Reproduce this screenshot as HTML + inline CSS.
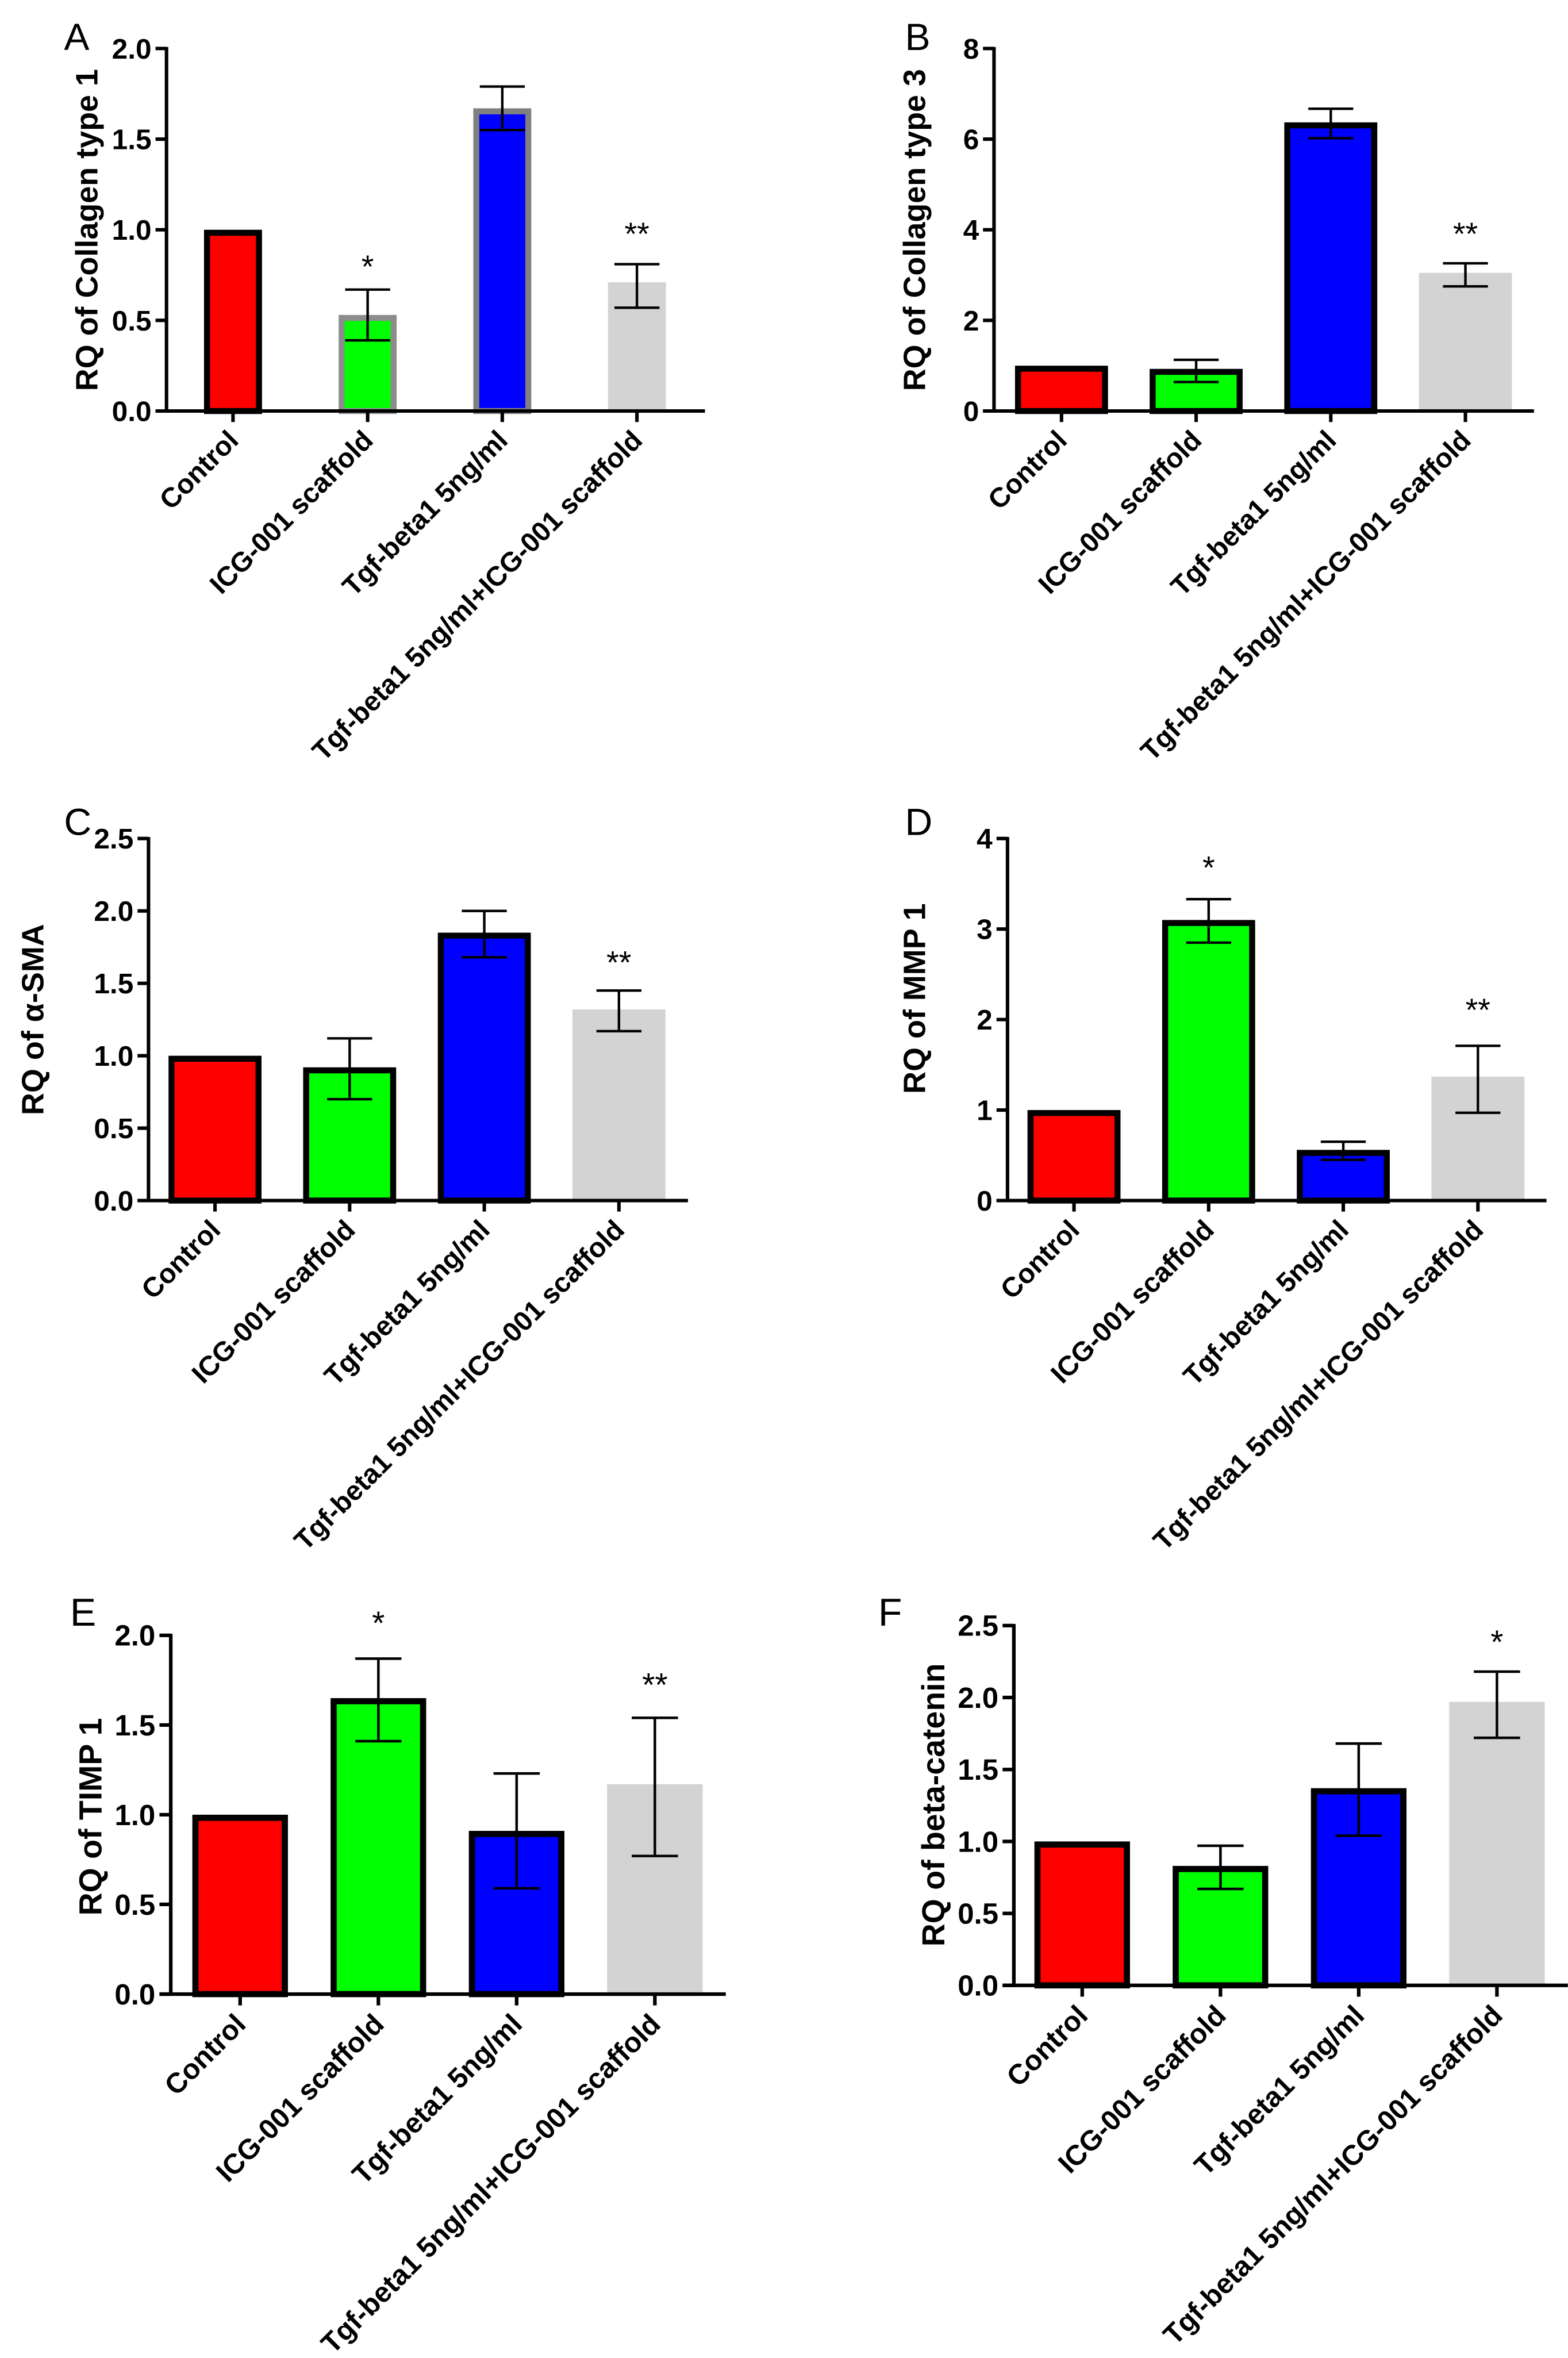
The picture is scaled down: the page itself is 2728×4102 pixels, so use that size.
<!DOCTYPE html>
<html><head><meta charset="utf-8">
<style>
html,body{margin:0;padding:0;background:#fff;}
body{width:2728px;height:4102px;position:relative;overflow:hidden;}
svg{position:absolute;}
text{font-family:"Liberation Sans",Arial,sans-serif;}
</style></head>
<body>
<svg id="pA" style="left:0;top:0" width="1364" height="1350" viewBox="0 0 1568 1552"></svg>
<svg id="pB" style="left:1364px;top:0" width="1364" height="1350" viewBox="0 0 1568 1552"></svg>
<svg id="pC" style="left:0;top:1350px" width="1364" height="1350" viewBox="0 0 1568 1552"></svg>
<svg id="pD" style="left:1364px;top:1350px" width="1364" height="1350" viewBox="0 0 1568 1552"></svg>
<svg id="pE" style="left:0;top:2700px" width="1364" height="1402" viewBox="0 0 1525 1568"></svg>
<svg id="pF" style="left:1364px;top:2700px" width="1364" height="1402" viewBox="0 0 1525 1568"></svg>
<script>
const categories = ["Control","ICG-001 scaffold","Tgf-beta1 5ng/ml","Tgf-beta1 5ng/ml+ICG-001 scaffold"];
const valuesA = [1.0, 0.53, 1.67, 0.71];
const errHiA = [null, 0.67, 1.79, 0.81];
const errLoA = [null, 0.39, 1.55, 0.57];
const starsA = ["", "*", "", "**"];
const ticksA = ["0.0","0.5","1.0","1.5","2.0"];
const valuesB = [1.0, 0.93, 6.37, 3.05];
const errHiB = [null, 1.13, 6.67, 3.26];
const errLoB = [null, 0.64, 6.02, 2.75];
const starsB = ["", "", "", "**"];
const ticksB = ["0","2","4","6","8"];
const valuesC = [1.0, 0.92, 1.85, 1.32];
const errHiC = [null, 1.12, 2.00, 1.45];
const errLoC = [null, 0.70, 1.68, 1.17];
const starsC = ["", "", "", "**"];
const ticksC = ["0.0","0.5","1.0","1.5","2.0","2.5"];
const valuesD = [1.0, 3.10, 0.56, 1.37];
const errHiD = [null, 3.33, 0.65, 1.71];
const errLoD = [null, 2.85, 0.45, 0.97];
const starsD = ["", "*", "", "**"];
const ticksD = ["0","1","2","3","4"];
const valuesE = [1.0, 1.65, 0.91, 1.17];
const errHiE = [null, 1.87, 1.23, 1.54];
const errLoE = [null, 1.41, 0.59, 0.77];
const starsE = ["", "*", "", "**"];
const ticksE = ["0.0","0.5","1.0","1.5","2.0"];
const valuesF = [1.0, 0.83, 1.37, 1.97];
const errHiF = [null, 0.97, 1.68, 2.18];
const errLoF = [null, 0.67, 1.04, 1.72];
const starsF = ["", "", "", "*"];
const ticksF = ["0.0","0.5","1.0","1.5","2.0","2.5"];

const NS="http://www.w3.org/2000/svg";
function mk(p,tag,attrs){const e=document.createElementNS(NS,tag);for(const k in attrs)e.setAttribute(k,attrs[k]);p.appendChild(e);return e;}

function draw(o){
  const s=document.getElementById(o.id);
  const tmax=parseFloat(o.ticks[o.ticks.length-1]);
  const y=v=>o.y0-(v/tmax)*(o.y0-o.ytop);
  const x=i=>o.c0+i*o.dx;
  const L=mk(s,"text",{x:o.lx,y:o.ly,"font-size":76});
  L.textContent=o.letter;
  
  
  const T=mk(s,"text",{x:o.tx,y:o.ty,"font-size":62,"font-weight":"bold","text-anchor":"middle",transform:`rotate(-90 ${o.tx} ${o.ty})`});
  T.textContent=o.title;
  
  
  o.values.forEach((v,i)=>{
    const st=o.styles[i];
    const sw=st.stroke?12:0;
    const w=o.bw;
    const r=mk(s,"rect",{x:x(i)-w/2+sw/2,y:y(v)+sw/2,width:w-sw,height:Math.max(0,y(0)-y(v)-sw/2),fill:st.fill,stroke:st.stroke||"none","stroke-width":sw});
    
    
  });
  o.values.forEach((v,i)=>{
    if(o.hi[i]==null) return;
    const g=mk(s,"g",{stroke:"#000","stroke-width":5});
    
    
    mk(g,"line",{x1:x(i),x2:x(i),y1:y(o.hi[i]),y2:y(o.lo[i])});
    mk(g,"line",{x1:x(i)-45,x2:x(i)+45,y1:y(o.hi[i]),y2:y(o.hi[i])});
    mk(g,"line",{x1:x(i)-45,x2:x(i)+45,y1:y(o.lo[i]),y2:y(o.lo[i])});
  });
  o.stars.forEach((t,i)=>{
    if(!t) return;
    const st=mk(s,"text",{x:x(i),y:o.starY[i]+10,"font-size":64,"text-anchor":"middle"});
    st.textContent=t;
    
    
  });
  const ax=mk(s,"g",{stroke:"#000","stroke-width":7});
  
  
  mk(ax,"line",{x1:o.ax,x2:o.ax,y1:o.ytop-3,y2:o.y0+3});
  mk(ax,"line",{x1:o.ax-22,x2:o.xend,y1:o.y0,y2:o.y0});
  o.ticks.forEach(t=>{
    const yy=y(parseFloat(t));
    mk(ax,"line",{x1:o.ax-22,x2:o.ax,y1:yy,y2:yy});
    const tl=mk(s,"text",{x:o.ax-30,y:yy+20,"font-size":57,"font-weight":"bold","text-anchor":"end"});
    tl.textContent=t;
    
    
  });
  categories.forEach((c,i)=>{
    mk(ax,"line",{x1:x(i),x2:x(i),y1:o.y0,y2:o.y0+22});
    const cx=x(i)+14, cy=o.y0+62;
    const tl=mk(s,"text",{x:cx,y:cy,"font-size":55,"font-weight":"bold","text-anchor":"end",transform:`rotate(-45 ${cx} ${cy})`});
    tl.textContent=c;
    
    
  });
}
const RED={fill:"#ff0000",stroke:"#000"}, GRN={fill:"#00ff00",stroke:"#000"}, BLU={fill:"#0000ff",stroke:"#000"}, GRY={fill:"#d3d3d3"};
draw({id:"pA",letter:"A",lx:128,ly:100,title:"RQ of Collagen type 1",tx:195,ty:460,ax:333,y0:822,ytop:97,xend:1410,c0:466,dx:269.3,bw:116,
  values:valuesA,hi:errHiA,lo:errLoA,stars:starsA,starY:[0,545,0,480],ticks:ticksA,
  styles:[RED,{fill:"#00ff00",stroke:"#8c8c8c"},{fill:"#0000ff",stroke:"#808080"},GRY]});
draw({id:"pB",letter:"B",lx:242,ly:100,title:"RQ of Collagen type 3",tx:282,ty:460,ax:420,y0:822,ytop:97,xend:1500,c0:555,dx:269.3,bw:186,
  values:valuesB,hi:errHiB,lo:errLoB,stars:starsB,starY:[0,0,0,480],ticks:ticksB,styles:[RED,GRN,BLU,GRY]});
draw({id:"pC",letter:"C",lx:128,ly:118,title:"RQ of  \u03b1-SMA",tx:87,ty:487,ax:297,y0:849,ytop:125,xend:1376,c0:430,dx:269.3,bw:186,
  values:valuesC,hi:errHiC,lo:errLoC,stars:starsC,starY:[0,0,0,385],ticks:ticksC,styles:[RED,GRN,BLU,GRY]});
draw({id:"pD",letter:"D",lx:242,ly:118,title:"RQ of MMP 1",tx:282,ty:445,ax:447,y0:849,ytop:125,xend:1525,c0:580,dx:269.3,bw:186,
  values:valuesD,hi:errHiD,lo:errLoD,stars:starsD,starY:[0,195,0,480],ticks:ticksD,styles:[RED,GRN,BLU,GRY]});
draw({id:"pE",letter:"E",lx:136,ly:143,title:"RQ of TIMP 1",tx:197,ty:515,ax:332,y0:860,ytop:162,xend:1412,c0:467,dx:269,bw:186,
  values:valuesE,hi:errHiE,lo:errLoE,stars:starsE,starY:[0,150,0,270],ticks:ticksE,styles:[RED,GRN,BLU,GRY]});
draw({id:"pF",letter:"F",lx:183,ly:143,title:"RQ of beta-catenin",tx:312,ty:492,ax:447,y0:843,ytop:143,xend:1525,c0:580,dx:269,bw:186,
  values:valuesF,hi:errHiF,lo:errLoF,stars:starsF,starY:[0,0,0,187],ticks:ticksF,styles:[RED,GRN,BLU,GRY]});
</script>
</body></html>
